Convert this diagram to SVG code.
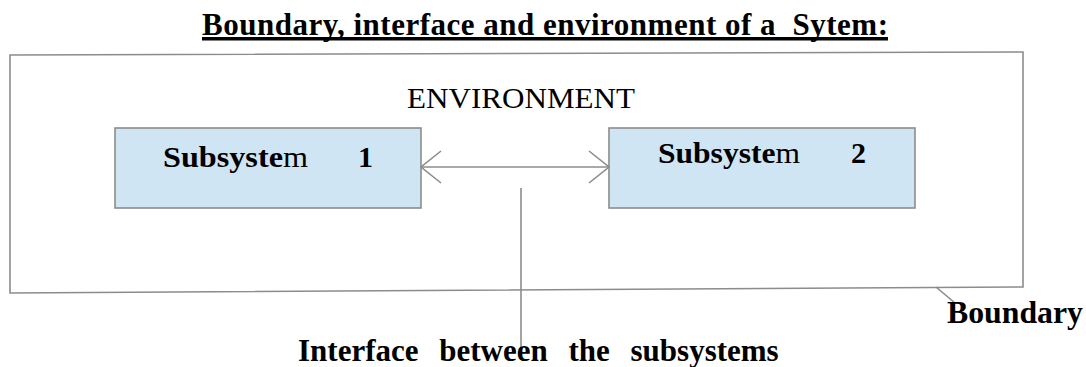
<svg xmlns="http://www.w3.org/2000/svg" width="1086" height="367" viewBox="0 0 1086 367">
<style>
.ln{fill:none;stroke:#8c8c8c;stroke-width:1.6}
.box{fill:#d0e5f4;stroke:#8c8c8c;stroke-width:1.6}
.b{font-family:"Liberation Serif","Times New Roman",serif;font-weight:bold;fill:#000}
.r{font-family:"Liberation Serif","Times New Roman",serif;font-weight:normal;fill:#000}
.pre{white-space:pre}
</style>
<defs>
<marker id="chev" viewBox="0 0 22 34" refX="21" refY="17" markerWidth="22" markerHeight="34" markerUnits="userSpaceOnUse" orient="auto-start-reverse">
<path d="M1,1 L21,17 L1,33" fill="none" stroke="#8c8c8c" stroke-width="1.6"/>
</marker>
</defs>
<g id="title">
<text class="b pre" x="202" y="35" font-size="31" textLength="686" lengthAdjust="spacing">Boundary, interface and environment of a  Sytem:</text>
<rect x="202" y="37" width="686" height="3.5" fill="#000"/>
</g>
<g id="boundary">
<path class="ln" d="M10,55 L1023,52 L1023,287 L10,293 Z"/>
<text class="r" x="407" y="108" font-size="30" textLength="228" lengthAdjust="spacingAndGlyphs">ENVIRONMENT</text>
</g>
<g id="subsystem1">
<rect class="box" x="115" y="128" width="306" height="80"/>
<text class="b" x="163" y="167" font-size="30" textLength="145" lengthAdjust="spacingAndGlyphs">Subsyste<tspan class="r">m</tspan></text>
<text class="b" x="358" y="167" font-size="30">1</text>
</g>
<g id="subsystem2">
<rect class="box" x="609" y="128" width="306" height="80"/>
<text class="b" x="658" y="163" font-size="30" textLength="142" lengthAdjust="spacingAndGlyphs">Subsyste<tspan class="r">m</tspan></text>
<text class="b" x="851" y="163" font-size="30">2</text>
</g>
<g id="connectors">
<line class="ln" x1="421" y1="167" x2="609" y2="167" marker-start="url(#chev)" marker-end="url(#chev)"/>
<line class="ln" x1="521" y1="188" x2="521" y2="352"/>
<line class="ln" x1="936" y1="287" x2="955" y2="303"/>
</g>
<g id="labels">
<text class="b" x="947" y="323" font-size="31" textLength="136" lengthAdjust="spacingAndGlyphs">Boundary</text>
<text class="b" x="298" y="361" font-size="31" word-spacing="13">Interface between the subsystems</text>
</g>
</svg>
